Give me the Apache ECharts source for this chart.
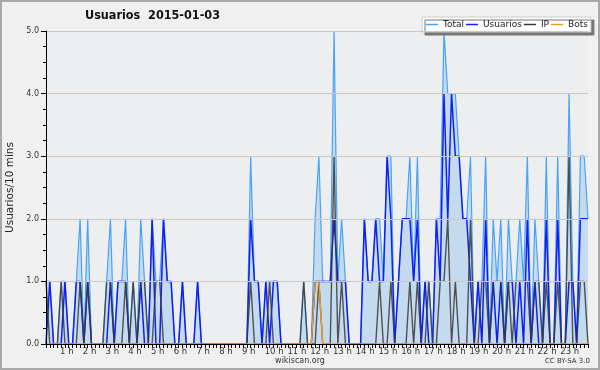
<!DOCTYPE html>
<html><head><meta charset="utf-8">
<script src="https://cdn.jsdelivr.net/npm/echarts@6/dist/echarts.min.js"></script>
<style>html,body{margin:0;padding:0;background:#f0f0f0}#c{width:600px;height:370px}</style>
</head><body><div id="c"></div>
<script>
var seriesNames = ['Total', 'Usuarios', 'IP', 'Bots'];
var hourLabels = ['', '1 h', '2 h', '3 h', '4 h', '5 h', '6 h', '7 h', '8 h', '9 h', '10 h', '11 h', '12 h', '13 h', '14 h', '15 h', '16 h', '17 h', '18 h', '19 h', '20 h', '21 h', '22 h', '23 h'];
var yLabels = ['0.0', '1.0', '2.0', '3.0', '4.0', '5.0'];
var totalValues = [
 1,1,0,0,1,1,0,0,1,2, 0,2,0,0,0,0,1,2,0,1, 1,2,0,1,0,2,1,0,2,1, 1,2,1,1,0,0,1,0,0,0,
 1,0,0,0,0,0,0,0,0,0, 0,0,0,0,3,1,1,0,1,1, 1,1,0,0,0,0,0,0,1,0, 0,2,3,1,1,1,5,1,2,1,
 0,0,0,0,2,1,1,2,2,1, 3,3,0,1,2,2,3,1,3,0, 1,1,0,2,2,5,4,4,4,3, 2,2,3,0,1,1,3,0,2,1,
 2,0,2,1,1,2,1,3,0,2, 1,0,3,0,0,3,0,0,4,1, 0,3,3,2];
var usuariosValues = [
 0,1,0,0,0,1,0,0,1,1, 0,1,0,0,0,0,0,1,0,1, 1,1,0,0,0,1,0,0,2,0, 0,2,1,1,0,0,1,0,0,0,
 1,0,0,0,0,0,0,0,0,0, 0,0,0,0,2,1,1,0,1,0, 1,1,0,0,0,0,0,0,0,0, 0,1,1,1,1,1,2,1,1,1,
 0,0,0,0,2,1,1,2,1,1, 3,2,0,1,2,2,2,1,2,0, 1,0,0,2,1,4,2,4,3,3, 2,2,1,0,1,0,2,0,1,0,
 1,0,1,1,0,1,0,2,0,1, 0,0,2,0,0,2,0,0,1,1, 0,2,2,2];
var ipValues = [
 1,0,0,0,1,0,0,0,0,1, 0,1,0,0,0,0,1,1,0,0, 0,1,0,1,0,1,1,0,0,1, 1,0,0,0,0,0,0,0,0,0,
 0,0,0,0,0,0,0,0,0,0, 0,0,0,0,1,0,0,0,0,1, 0,0,0,0,0,0,0,0,1,0, 0,0,1,0,0,0,3,0,1,0,
 0,0,0,0,0,0,0,0,1,0, 0,1,0,0,0,0,1,0,1,0, 0,1,0,0,1,1,2,0,1,0, 0,0,2,0,0,1,1,0,1,1,
 1,0,1,0,1,1,1,1,0,1, 1,0,1,0,0,1,0,0,3,0, 0,1,1,0];
var botsValues = [
 0,0,0,0,0,0,0,0,0,0, 0,0,0,0,0,0,0,0,0,0, 0,0,0,0,0,0,0,0,0,0, 0,0,0,0,0,0,0,0,0,0,
 0,0,0,0,0,0,0,0,0,0, 0,0,0,0,0,0,0,0,0,0, 0,0,0,0,0,0,0,0,0,0, 0,1,1,0,0,0,0,0,0,0,
 0,0,0,0,0,0,0,0,0,0, 0,0,0,0,0,0,0,0,0,0, 0,0,0,0,0,0,0,0,0,0, 0,0,0,0,0,0,0,0,0,0,
 0,0,0,0,0,0,0,0,0,0, 0,0,0,0,0,0,0,0,0,0, 0,0,0,0];

function pairs(arr){ return arr.map(function(v,i){ return [i, v]; }); }
var FONT = 'DejaVu Sans';
var chart = echarts.init(document.getElementById('c'), null, {renderer:'canvas'});
chart.setOption({
  animation: false,
  backgroundColor: '#f0f0f0',
  title: [
    {text: 'Usuarios  2015-01-03', left: 85, top: 9, padding: 0,
     textStyle: {fontFamily: 'DejaVu Sans Condensed', fontSize: 12.5, fontWeight: 'bold', color: '#111'}},
    {text: 'wikiscan.org', left: 'center', top: 357, padding: 0,
     textStyle: {fontFamily: FONT, fontSize: 8, fontWeight: 'normal', color: '#333'}},
    {text: 'CC BY-SA 3.0', right: 10, top: 358, padding: 0,
     textStyle: {fontFamily: FONT, fontSize: 7, fontWeight: 'normal', color: '#333'}}
  ],
  graphic: [{type: 'rect', shape: {x: 1, y: 1, width: 598, height: 368}, style: {fill: 'none', stroke: '#a8a8a8', lineWidth: 2}, silent: true, z: 100}],
  legend: {
    data: seriesNames, left: 422, top: 17, padding: [2, 3, 2, 4], itemGap: 2,
    itemWidth: 12, itemHeight: 1.5, icon: 'rect',
    backgroundColor: '#ffffff', borderColor: '#cccccc', borderWidth: 1,
    shadowColor: '#777777', shadowBlur: 0, shadowOffsetX: 3, shadowOffsetY: 3,
    textStyle: {fontFamily: FONT, fontSize: 9, color: '#1a1a1a', lineHeight: 11}
  },
  grid: {left: 46, right: 12, top: 31, bottom: 26, containLabel: false, outerBoundsMode: 'none',
         show: true, backgroundColor: '#eceef0', borderWidth: 0},
  xAxis: {
    type: 'value', min: 0, max: 143, interval: 1, z: 10,
    axisLine: {lineStyle: {color: '#000', width: 1}},
    axisTick: {length: 4, lineStyle: {color: '#000'}},
    splitLine: {show: false},
    axisLabel: {fontFamily: FONT, fontSize: 8.5, color: '#333', margin: 3, align: 'center',
      formatter: function(v){ return (v % 6 === 0 && hourLabels[v/6]) ? '{a|' + hourLabels[v/6] + '}' : ''; },
      rich: {a: {width: 17.4, align: 'left', fontFamily: FONT, fontSize: 8.5, color: '#333'}}}
  },
  yAxis: {
    type: 'value', min: 0, max: 5, interval: 1, z: 10,
    name: 'Usuarios/10 mins', nameLocation: 'middle', nameGap: 30, nameRotate: 90,
    nameTextStyle: {fontFamily: FONT, fontSize: 10.5, color: '#222'},
    axisLine: {show: true, lineStyle: {color: '#000', width: 1}},
    axisTick: {show: true, length: 5, lineStyle: {color: '#000'}},
    minorTick: {show: true, splitNumber: 4, length: 3, lineStyle: {color: '#000'}},
    splitLine: {show: true, lineStyle: {color: '#c8c8c8', width: 1}},
    axisLabel: {fontFamily: FONT, fontSize: 8, color: '#333', margin: 7,
      formatter: function(v){ return yLabels[Math.round(v)]; }}
  },
  series: [
    {name: 'Total', type: 'line', data: pairs(totalValues), symbol: 'none',
     lineStyle: {color: '#4aa3f5', width: 1.2}, itemStyle: {color: '#4aa3f5'},
     areaStyle: {color: '#c4dbef', opacity: 1}, z: 2},
    {name: 'Usuarios', type: 'line', data: pairs(usuariosValues), symbol: 'none',
     lineStyle: {color: '#1020f5', width: 1.5}, itemStyle: {color: '#1020f5'}, z: 3},
    {name: 'IP', type: 'line', data: pairs(ipValues), symbol: 'none',
     lineStyle: {color: '#3a3a3a', width: 1.4, opacity: 0.85}, itemStyle: {color: '#3a3a3a'}, z: 4},
    {name: 'Bots', type: 'line', data: pairs(botsValues), symbol: 'none',
     lineStyle: {color: '#f59a1a', width: 1.4}, itemStyle: {color: '#f59a1a'}, z: 5}
  ]
});
</script></body></html>
